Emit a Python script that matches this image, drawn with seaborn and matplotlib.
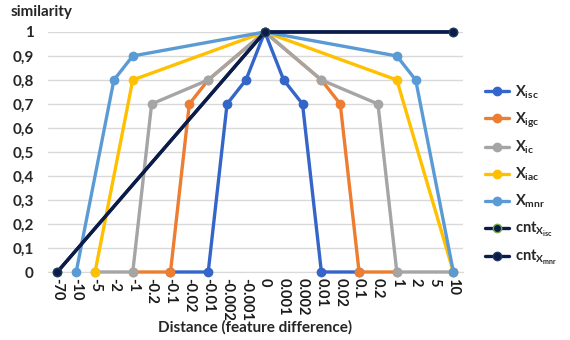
import matplotlib
matplotlib.use('Agg')
import matplotlib.pyplot as plt
import seaborn as sns
import numpy as np
import pandas as pd

# categorias do eixo x (distancias)
categorias = ['-70', '-10', '-5', '-2', '-1', '-0.2', '-0.1', '-0.02', '-0.01', '-0.002', '-0.001',
              '0', '0.001', '0.002', '0.01', '0.02', '0.1', '0.2', '1', '2', '5', '10']

# valores de similaridade (None = sem ponto)
n = None
x_isc = [n, n, n, n, n, n, 0, n, 0, 0.7, 0.8, 1, 0.8, 0.7, 0, n, 0, n, n, n, n, n]
x_igc = [n, n, n, n, 0, n, 0, 0.7, 0.8, n, n, 1, n, n, 0.8, 0.7, 0, n, 0, n, n, n]
x_ic = [n, n, 0, n, 0, 0.7, n, n, 0.8, n, n, 1, n, n, 0.8, n, n, 0.7, 0, n, n, 0]
x_iac = [n, n, 0, n, 0.8, n, n, n, n, n, n, 1, n, n, n, n, n, n, 0.8, n, n, 0]
x_mnr = [n, 0, n, 0.8, 0.9, n, n, n, n, n, n, 1, n, n, n, n, n, n, 0.9, 0.8, n, 0]
cnt_isc = [0, n, n, n, n, n, n, n, n, n, n, 1, n, n, n, n, n, n, n, n, n, 1]
cnt_mnr = [0, n, n, n, n, n, n, n, n, n, n, 1, n, n, n, n, n, n, n, n, n, 1]

series = [
    (r'$\mathbf{X_{isc}}$', x_isc, '#3465C8', '#3465C8'),
    (r'$\mathbf{X_{igc}}$', x_igc, '#ED7D31', '#ED7D31'),
    (r'$\mathbf{X_{ic}}$', x_ic, '#A5A5A5', '#A5A5A5'),
    (r'$\mathbf{X_{iac}}$', x_iac, '#FFC000', '#FFC000'),
    (r'$\mathbf{X_{mnr}}$', x_mnr, '#5B9BD5', '#5B9BD5'),
    (r'$\mathbf{cnt_{X_{isc}}}$', cnt_isc, '#0B1C4A', '#70AD47'),
    (r'$\mathbf{cnt_{X_{mnr}}}$', cnt_mnr, '#0B1C4A', '#1F3864'),
]

sns.set_style('white')
plt.rcParams['font.family'] = ['Lato', 'DejaVu Sans']
plt.rcParams['mathtext.fontset'] = 'custom'
plt.rcParams['mathtext.bf'] = 'Lato:bold'
plt.rcParams['mathtext.rm'] = 'Lato'
plt.rcParams['mathtext.it'] = 'Lato:italic'

fig = plt.figure(figsize=(5.7, 3.4), dpi=100)
ax = fig.add_axes([0.084, 0.2, 0.728, 0.706])

pos = np.arange(len(categorias))
for nome, vals, cor, cor_marca in series:
    df = pd.DataFrame({'x': pos, 'y': vals}).dropna()
    sns.lineplot(data=df, x='x', y='y', ax=ax, color=cor, linewidth=2.4, marker='o',
                 markersize=6, markeredgewidth=1, markeredgecolor=cor_marca,
                 markerfacecolor=cor, label=nome, clip_on=False, zorder=3)

ax.set_xlim(-0.5, len(categorias) - 0.5)
ax.set_ylim(0, 1)
ax.set_xticks(pos)
ax.set_xticklabels(categorias, rotation=-90, fontsize=10.5, fontweight='bold', color='#1a1a1a')
ax.set_yticks(np.arange(0, 1.01, 0.1))
ax.set_yticklabels(['0'] + ['0,%d' % i for i in range(1, 10)] + ['1'],
                   fontsize=11, fontweight='bold', color='#262626')
ax.tick_params(axis='x', length=0, pad=4)
ax.tick_params(axis='y', length=0, pad=10)
ax.grid(axis='y', color='#D9D9D9', linewidth=1)
for s in ['top', 'right', 'left']:
    ax.spines[s].set_visible(False)
ax.spines['bottom'].set_color('#D9D9D9')
ax.set_xlabel('Distance (feature difference)', fontsize=11, fontweight='bold', labelpad=0)
ax.set_ylabel('')
fig.text(0.018, 0.965, 'similarity', fontsize=11, fontweight='bold', ha='left', va='center')

ax.legend(loc='upper left', bbox_to_anchor=(0.84, 0.772), bbox_transform=fig.transFigure,
          frameon=False, fontsize=10.5, labelspacing=0.65, handlelength=1.7,
          handletextpad=0.4, borderaxespad=0)

plt.savefig('out.png', dpi=100)
